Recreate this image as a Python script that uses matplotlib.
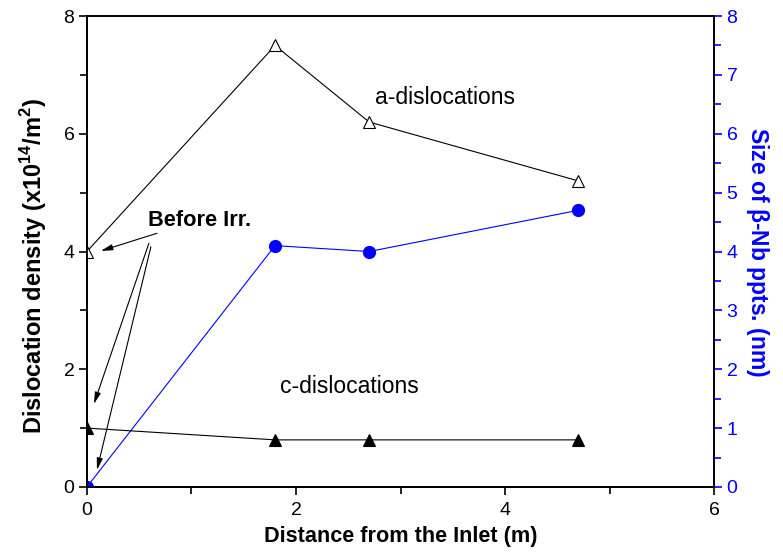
import matplotlib
matplotlib.use('Agg')
import matplotlib.pyplot as plt
from matplotlib.ticker import MultipleLocator

plt.rcParams['font.family'] = ['Liberation Sans', 'DejaVu Sans']
plt.rcParams['mathtext.fontset'] = 'custom'
plt.rcParams['mathtext.rm'] = 'Liberation Sans:bold'
plt.rcParams['mathtext.bf'] = 'Liberation Sans:bold'

# data
distance   = [0, 1.8, 2.7, 4.7]
a_disl     = [4.0, 7.5, 6.2, 5.2]
c_disl     = [1.0, 0.8, 0.8, 0.8]
nb_size    = [0.0, 4.1, 4.0, 4.7]

BLUE = '#0000ff'

fig = plt.figure(figsize=(7.83, 5.54), dpi=100)
ax = fig.add_axes([0.111, 0.121, 0.801, 0.850])
ax2 = ax.twinx()

ax.plot(distance, a_disl, '-^', color='k', mfc='white', mec='k', lw=0.8,
        ms=9, mew=0.8)
ax.plot(distance, c_disl, '-^', color='k', mfc='k', mec='k', lw=0.8,
        ms=9, mew=0.8)
ax2.plot(distance, nb_size, '-o', color=BLUE, mfc=BLUE, mec=BLUE, lw=0.8,
         ms=8.5)

ax.set_xlim(0, 6)
ax.set_ylim(0, 8)
ax2.set_ylim(0, 8)

ax.xaxis.set_major_locator(MultipleLocator(2))
ax.xaxis.set_minor_locator(MultipleLocator(1))
ax.yaxis.set_major_locator(MultipleLocator(2))
ax.yaxis.set_minor_locator(MultipleLocator(1))
ax2.yaxis.set_major_locator(MultipleLocator(1))
ax2.yaxis.set_minor_locator(MultipleLocator(0.5))

for a in (ax, ax2):
    for s in a.spines.values():
        s.set_linewidth(1.3)
ax2.spines['right'].set_color(BLUE)

ax.tick_params(which='both', direction='out', top=False, right=False,
               width=1.2, labelsize=14)
ax.tick_params(which='major', length=6)
ax.tick_params(which='minor', length=5)
ax.tick_params(axis='x', pad=5)
ax.tick_params(axis='y', pad=3)
ax2.tick_params(which='both', direction='out', colors=BLUE, width=1.2,
                labelsize=14, pad=3)
ax2.tick_params(which='major', length=6)
ax2.tick_params(which='minor', length=5)

ax.set_xlabel('Distance from the Inlet (m)', fontsize=15.6, fontweight='bold',
              labelpad=5)
ax.set_ylabel(r'Dislocation density (x10$^{\mathregular{14}}$/m$^{\mathregular{2}}$)',
              fontsize=17, fontweight='bold')
ax.yaxis.set_label_coords(-0.06, 0.47)
ax2.set_ylabel(r'Size of $\mathregular{\beta}$-Nb ppts. (nm)', fontsize=16.5,
               fontweight='bold', color=BLUE, rotation=270, labelpad=24)

ax.text(2.756, 6.61, 'a-dislocations', fontsize=16.5, va='center', ha='left')
ax.text(1.847, 1.70, 'c-dislocations', fontsize=16.5, va='center', ha='left')
ax.text(0.584, 4.535, 'Before Irr.', fontsize=15.7, fontweight='bold',
        va='center', ha='left')

arrow = dict(arrowstyle='-|>,head_length=0.7,head_width=0.18', color='k',
             lw=0.8, shrinkA=0, shrinkB=0)
ax.annotate('', xy=(0.134, 4.01), xytext=(0.67, 4.31), arrowprops=arrow)
ax.annotate('', xy=(0.067, 1.41), xytext=(0.593, 4.14), arrowprops=arrow)
ax.annotate('', xy=(0.096, 0.29), xytext=(0.612, 4.08), arrowprops=arrow)

ax.set_zorder(ax2.get_zorder() + 1)
ax.patch.set_visible(False)

fig.savefig('out.png', dpi=100)
